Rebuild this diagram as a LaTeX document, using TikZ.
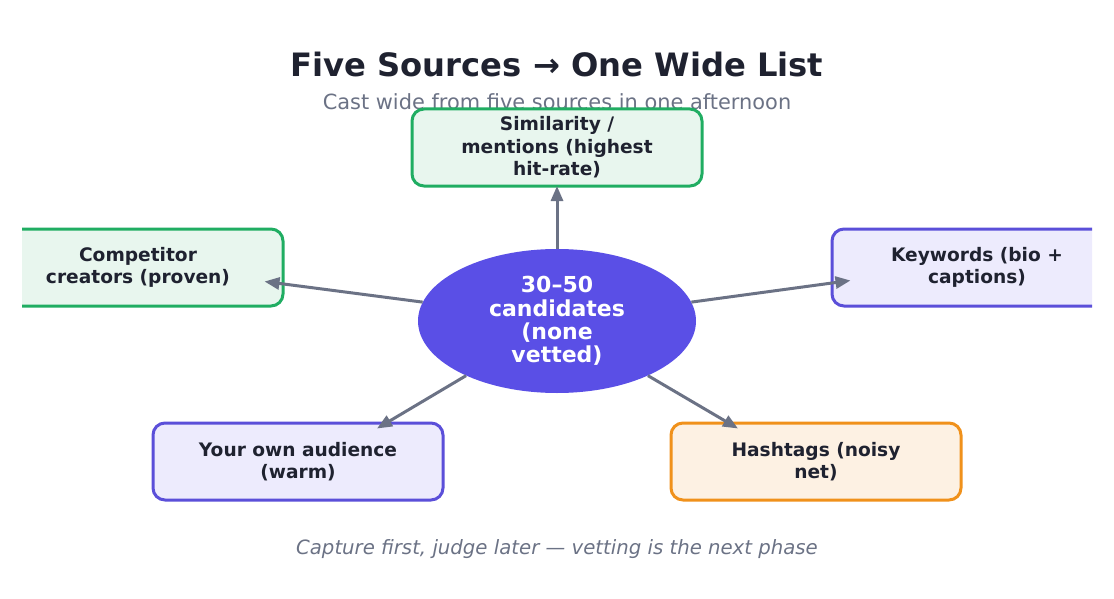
\documentclass[tikz,border=0pt]{standalone}
\usepackage{fontspec}
\setmainfont{DejaVu Sans}
\usepackage{xcolor}
\usetikzlibrary{arrows.meta, shapes.geometric}

\definecolor{encre}{HTML}{1F2230}
\definecolor{gris}{HTML}{6B7285}
\definecolor{vertbord}{HTML}{20AD62}
\definecolor{vertfond}{HTML}{E8F6EE}
\definecolor{violetbord}{HTML}{5B4FD9}
\definecolor{violetfond}{HTML}{EDEBFD}
\definecolor{orangebord}{HTML}{F0911B}
\definecolor{orangefond}{HTML}{FDF1E3}
\definecolor{indigo}{HTML}{5A4FE6}

\begin{document}
\begin{tikzpicture}[x=1pt, y=-1pt,
    source/.style={draw, line width=3pt, rounded corners=12pt,
        minimum width=290pt, minimum height=77pt, align=center,
        font=\fontsize{18.6}{22.5}\selectfont\bfseries, text=encre},
    vert/.style={source, draw=vertbord, fill=vertfond},
    violet/.style={source, draw=violetbord, fill=violetfond},
    orange/.style={source, draw=orangebord, fill=orangefond},
    lien/.style={draw=gris, line width=3pt,
        -{Triangle[length=15pt, width=12pt]}}]
    \useasboundingbox (0,0) rectangle (1114,599);
    \clip (22,0) rectangle (1092,599);

    % Titre et sous-titre
    \node[font=\fontsize{32.2}{38}\selectfont\bfseries, text=encre] (titre) at (557,64)
        {Five Sources → One Wide List};
    \node[font=\fontsize{20.9}{25}\selectfont, text=gris] (soustitre) at (557,102)
        {Cast wide from five sources in one afternoon};

    % Les cinq sources
    \node[vert] (simil) at (557,147.5) {Similarity /\\mentions (highest\\hit-rate)};
    \node[vert] (concur) at (138,267.5) {Competitor\\creators (proven)};
    \node[violet] (motscles) at (977,267.5) {Keywords (bio +\\captions)};
    \node[violet] (public) at (298,461.5) {Your own audience\\(warm)};
    \node[orange] (hashtags) at (816,461.5) {Hashtags (noisy\\net)};

    % Liste centrale
    \node[ellipse, fill=indigo, minimum width=278pt, minimum height=144pt, inner sep=0pt,
        align=center, text=white, font=\fontsize{22}{23.3}\selectfont\bfseries]
        (liste) at (557,321) {30–50\\candidates\\(none\\vetted)};

    % Fleches
    \draw[lien] (liste.90) -- ([yshift=1.5pt]simil.south);
    \draw[lien] (liste.172) -- ([shift={(-20,14)}]concur.east);
    \draw[lien] (liste.8) -- ([shift={(20,13)}]motscles.west);
    \draw[lien] (liste.211) -- ([shift={(79,7)}]public.north);
    \draw[lien] (liste.329) -- ([shift={(-78,7)}]hashtags.north);

    % Note du bas
    \node[font=\fontsize{19.7}{24}\selectfont\itshape, text=gris] (note) at (557,549)
        {Capture first, judge later — vetting is the next phase};
\end{tikzpicture}
\end{document}
